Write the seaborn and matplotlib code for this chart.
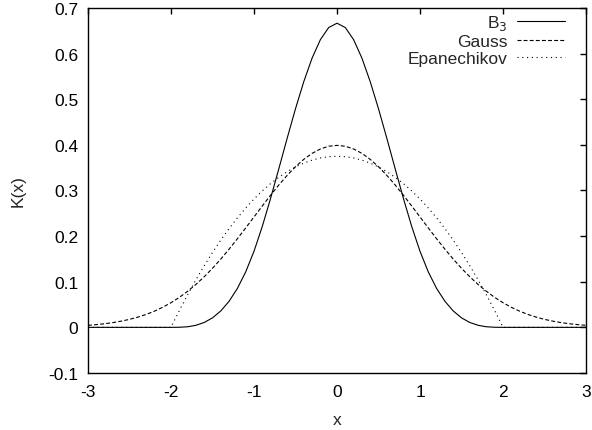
import numpy as np
import pandas as pd
import matplotlib
matplotlib.use("Agg")
import matplotlib.pyplot as plt
import seaborn as sns

# x = 0.0, 0.1, ..., 3.0 (kernels are symmetric)
x_half = [round(0.1 * i, 1) for i in range(31)]

b3_half = [0.6667, 0.6572, 0.6307, 0.5902, 0.5387, 0.4792, 0.4147, 0.3482,
           0.2827, 0.2212, 0.1667, 0.1215, 0.0853, 0.0572, 0.0360, 0.0208,
           0.0107, 0.0045, 0.0013, 0.0002, 0.0, 0.0, 0.0, 0.0, 0.0, 0.0,
           0.0, 0.0, 0.0, 0.0, 0.0]
gauss_half = [0.3989, 0.3970, 0.3910, 0.3814, 0.3683, 0.3521, 0.3332, 0.3123,
              0.2897, 0.2661, 0.2420, 0.2179, 0.1942, 0.1714, 0.1497, 0.1295,
              0.1109, 0.0940, 0.0790, 0.0656, 0.0540, 0.0440, 0.0355, 0.0283,
              0.0224, 0.0175, 0.0136, 0.0104, 0.0079, 0.0060, 0.0044]
epan_half = [0.3750, 0.3741, 0.3713, 0.3666, 0.3600, 0.3516, 0.3413, 0.3291,
             0.3150, 0.2991, 0.2813, 0.2616, 0.2400, 0.2166, 0.1913, 0.1641,
             0.1350, 0.1041, 0.0713, 0.0366, 0.0, 0.0, 0.0, 0.0, 0.0, 0.0,
             0.0, 0.0, 0.0, 0.0, 0.0]

x_ticks = [-3, -2, -1, 0, 1, 2, 3]
y_ticks = [-0.1, 0, 0.1, 0.2, 0.3, 0.4, 0.5, 0.6, 0.7]
y_labels = ["-0.1", "0", "0.1", "0.2", "0.3", "0.4", "0.5", "0.6", "0.7"]


def mirror(half):
    return list(half[:0:-1]) + list(half)


x = [-v for v in x_half[:0:-1]] + x_half

sns.set_style("white")
plt.rcParams["font.family"] = ["Liberation Sans", "DejaVu Sans"]
fs = 12.5

fig = plt.figure(figsize=(5.92, 4.31), dpi=100)
ax = fig.add_axes([0.1486, 0.1323, 0.8413, 0.8468])

sns.lineplot(x=x, y=mirror(b3_half), ax=ax, color="black", lw=0.8,
             label="B$_3$")
sns.lineplot(x=x, y=mirror(gauss_half), ax=ax, color="black", lw=0.8,
             label="Gauss").lines[-1].set_dashes((3.5, 2.0))
sns.lineplot(x=x, y=mirror(epan_half), ax=ax, color="black", lw=0.8,
             label="Epanechikov").lines[-1].set_dashes((1, 3.3))

ax.set_xlim(-3, 3)
ax.set_ylim(-0.1, 0.7)
ax.set_xticks(x_ticks)
ax.set_xticklabels([str(t) for t in x_ticks])
ax.set_yticks(y_ticks)
ax.set_yticklabels(y_labels)
ax.set_xlabel("x", fontsize=fs, labelpad=9)
ax.set_ylabel("K(x)", fontsize=fs, labelpad=16)

ax.tick_params(direction="in", length=4, width=1, top=True, right=True,
               labelsize=fs, colors="black")
ax.tick_params(axis="y", pad=7)
ax.tick_params(axis="x", pad=8)
for s in ax.spines.values():
    s.set_color("black")
    s.set_linewidth(1.0)

ax.legend(loc="upper right", frameon=False, markerfirst=False,
          handlelength=2.75, handletextpad=0.55, labelspacing=0.1,
          borderaxespad=0, borderpad=0, fontsize=fs,
          bbox_to_anchor=(0.958, 0.985))

fig.savefig("out.png", dpi=100)
